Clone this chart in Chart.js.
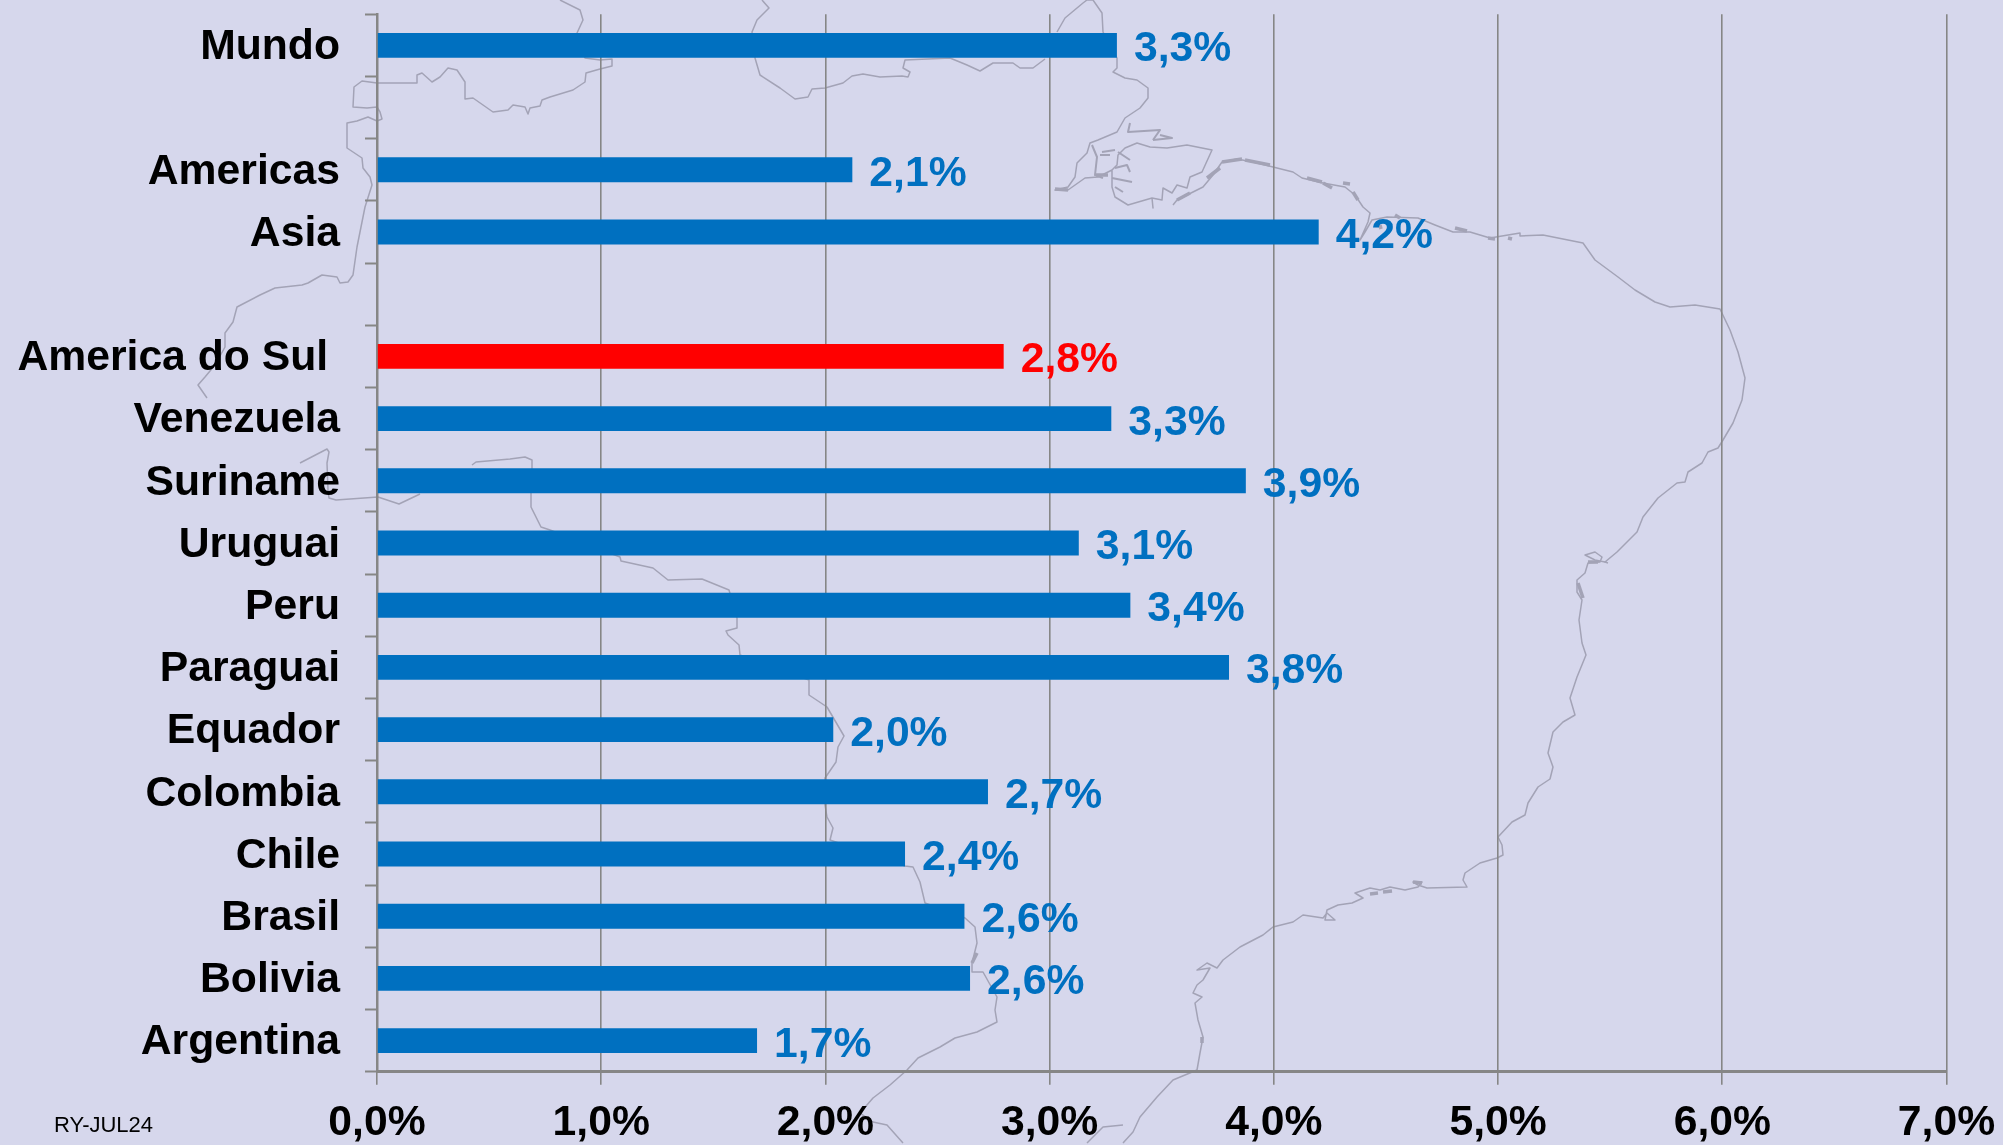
<!DOCTYPE html>
<html>
<head>
<meta charset="utf-8">
<title>America do Sul</title>
<script src="https://cdn.jsdelivr.net/npm/chart.js@4/dist/chart.umd.min.js"></script>
<style>
    html, body { margin: 0; padding: 0; width: 2003px; height: 1145px; overflow: hidden; background: #d6d7ec; }
    #map, #chart { position: absolute; left: 0; top: 0; }
</style>
</head>
<body>
<svg id="map" width="2003" height="1145"></svg>
<canvas id="chart" width="2003" height="1145"></canvas>
<script>
// Chart data, top to bottom. Empty names are the gaps between groups
const regions = ['Mundo', '', 'Americas', 'Asia', '', 'America do Sul ', 'Venezuela', 'Suriname', 'Uruguai',
    'Peru', 'Paraguai', 'Equador', 'Colombia', 'Chile', 'Brasil', 'Bolivia', 'Argentina'];
const rates = [3.30, null, 2.12, 4.20, null, 2.795, 3.275, 3.875, 3.13,
    3.36, 3.80, 2.035, 2.725, 2.355, 2.62, 2.645, 1.695];
const highlighted = ['America do Sul '];
const xTicks = [0, 1, 2, 3, 4, 5, 6, 7];
const footnote = 'RY-JUL24';

const BLUE = '#0070c0';
const RED = '#ff0000';
const AXIS_GREY = '#868686';
const FONT = '"Liberation Sans", Arial, sans-serif';

// Background picture of the continent, traced in page pixels
const coast = [
    [[300,463],[327,449],[329,452],[327,463],[328,490],[329,498],[336,500],[378,497],[399,504],[420,494]],
    [[560,0],[580,10],[583,20],[577,33],[585,58],[600,60],[612,59],[612,66],[600,69],[586,73],[585,82],[573,90],[550,97],[542,100],[540,106],[530,108],[528,114],[525,107],[513,105],[508,110],[493,112],[483,105],[473,98],[465,99],[465,82],[457,70],[448,68],[440,77],[432,82],[422,73],[417,75],[417,83],[377,83],[362,81],[354,87],[353,107],[367,108],[377,107],[380,112],[382,119],[377,121],[368,117],[357,121],[347,123],[347,148],[362,158],[363,168],[370,177],[372,185],[365,207],[357,247],[353,275],[348,282],[340,283],[337,277],[322,275],[308,283],[302,285],[275,288],[260,295],[237,307],[233,322],[225,333],[225,347],[215,365],[205,377],[198,385],[207,398]],
    [[472,465],[476,462],[510,459],[525,457],[532,460],[532,468],[531,493],[531,507],[541,527],[550,530],[620,557],[621,561],[653,568],[668,580],[702,579],[729,590],[737,618],[737,628],[726,631],[728,635],[739,645],[740,655],[809,680],[809,695],[827,707],[844,736],[838,747],[836,762],[825,778],[825,805],[827,817],[833,828],[830,840],[905,866],[913,867],[920,882],[925,903],[965,918],[975,927],[977,943],[972,963],[972,972],[983,972],[997,997],[995,1010],[997,1022],[977,1032],[955,1038],[940,1047],[918,1058],[907,1070],[890,1085],[873,1098],[860,1113],[873,1122],[887,1125],[903,1143]],
    [[762,0],[769,8],[757,20],[752,32],[755,58],[760,75],[780,88],[795,99],[808,97],[812,89],[825,88],[843,83],[852,76],[863,74],[880,77],[902,76],[908,77],[910,72],[903,68],[905,60],[950,58],[967,65],[980,71],[993,63],[1013,63],[1020,68],[1033,68],[1045,59]],
    [[1057,32],[1065,18],[1083,3],[1087,0],[1093,0],[1102,13],[1103,32],[1117,58],[1117,68],[1113,72],[1125,78],[1137,80],[1148,88],[1148,98],[1140,108],[1125,118],[1117,132],[1098,140],[1090,143],[1087,153],[1077,163],[1075,177],[1068,187],[1055,190],[1068,190],[1085,178],[1098,177],[1112,170],[1112,187],[1115,197],[1128,205],[1152,198],[1153,208],[1152,198],[1162,200],[1163,188],[1172,193],[1177,185],[1187,188],[1190,177],[1202,172],[1212,150],[1187,145],[1167,148],[1150,147],[1137,143],[1125,148],[1118,155],[1117,165],[1112,170]],
    [[1173,205],[1177,200],[1203,187],[1213,175],[1222,162],[1237,159],[1253,162],[1273,167],[1293,172],[1302,178],[1323,183],[1345,187],[1355,195],[1363,207],[1370,213],[1368,222],[1360,240],[1365,232],[1372,220],[1387,217],[1418,218],[1435,225],[1453,232],[1470,232],[1490,238],[1520,233],[1520,236],[1543,235],[1583,243],[1595,260],[1618,277],[1635,290],[1655,302],[1670,307],[1695,305],[1720,309],[1730,330],[1738,352],[1745,378],[1742,400],[1733,423],[1723,440],[1718,448],[1708,452],[1702,463],[1688,472],[1685,482],[1677,483],[1658,498],[1643,517],[1637,532],[1617,552],[1605,562],[1608,563]],
    [[1605,562],[1595,560],[1585,555],[1595,552],[1602,557],[1600,562],[1588,563],[1585,573],[1577,580],[1577,592],[1582,600],[1579,620],[1582,643],[1586,655],[1577,677],[1570,698],[1575,715],[1563,722],[1553,732],[1548,753],[1553,767],[1550,779],[1538,787],[1528,803],[1525,815],[1512,822],[1498,837],[1502,845],[1503,855],[1497,858],[1480,863],[1465,873],[1463,880],[1467,887],[1427,888],[1418,885],[1413,882],[1422,882],[1418,887],[1405,890],[1390,887],[1380,890],[1370,888],[1355,893],[1363,898],[1352,903],[1338,905],[1327,910],[1325,920],[1335,920],[1327,913],[1323,918],[1303,915],[1293,922],[1273,927],[1263,935],[1240,947],[1223,960],[1217,968],[1207,963],[1197,970],[1210,968],[1203,980],[1197,985],[1193,993],[1202,997],[1195,1003],[1198,1020],[1203,1037],[1200,1053],[1197,1070],[1173,1080],[1157,1097],[1140,1117],[1133,1132],[1123,1143]],
    [[1123,1125],[1103,1127],[1087,1143]]
];
// Inner channels of the river delta
const deltaChannels = [
    [[1092,145],[1097,157],[1095,175],[1103,178]],
    [[1102,152],[1115,150]], [[1100,155],[1110,155]], [[1118,152],[1130,160]],
    [[1115,168],[1127,165],[1130,172]], [[1112,178],[1132,182]], [[1115,187],[1123,192]],
    [[1130,123],[1128,132],[1160,130],[1153,140]], [[1153,140],[1172,138],[1160,135]]
];
// Small dark specks where the coast is very broken up
const coastSpecks = [
    [[1207,178],[1220,168]], [[1177,200],[1190,193]], [[1222,162],[1242,159]], [[1245,160],[1270,165]],
    [[1307,178],[1322,182]], [[1323,183],[1332,188]], [[1343,183],[1350,184]], [[1353,192],[1358,200]],
    [[1395,215],[1400,218]], [[1455,228],[1467,231]], [[1488,238],[1495,239]], [[1508,238],[1512,239]],
    [[1380,225],[1381,229]], [[1588,562],[1598,562]], [[1578,583],[1583,598]], [[1413,882],[1422,883]],
    [[1370,894],[1378,893]], [[1383,892],[1392,891]], [[972,963],[977,953]], [[1202,1037],[1202,1043]],
    [[1096,175],[1108,175]], [[1055,189],[1068,190]]
];

const svg = document.getElementById('map');
function addCoast(points, width) {
    const line = document.createElementNS('http://www.w3.org/2000/svg', 'polyline');
    line.setAttribute('points', points.map(p => p.join(',')).join(' '));
    line.setAttribute('fill', 'none');
    line.setAttribute('stroke', '#a3a3b6');
    line.setAttribute('stroke-width', width);
    line.setAttribute('stroke-linejoin', 'round');
    svg.appendChild(line);
}
coast.forEach(points => addCoast(points, 1.5));
deltaChannels.forEach(points => addCoast(points, 2));
coastSpecks.forEach(points => addCoast(points, 3.5));

const barColor = (name) => highlighted.includes(name) ? RED : BLUE;
const percent = (value) => value.toFixed(1).replace('.', ',') + '%';

// Writes the value next to each bar, Chart.js has no built in data labels
const valueLabels = {
    id: 'valueLabels',
    afterDatasetsDraw(chart) {
        const ctx = chart.ctx;
        ctx.save();
        ctx.font = 'bold 42.7px ' + FONT;
        ctx.textAlign = 'left';
        ctx.textBaseline = 'alphabetic';
        chart.getDatasetMeta(0).data.forEach((bar, i) => {
            if (rates[i] === null) return;
            ctx.fillStyle = barColor(regions[i]);
            ctx.fillText(percent(rates[i]), bar.x + 17, bar.y + 16);
        });
        ctx.restore();
    }
};

const footnoteText = {
    id: 'footnoteText',
    afterDraw(chart) {
        const ctx = chart.ctx;
        ctx.save();
        ctx.font = '22px ' + FONT;
        ctx.fillStyle = '#000000';
        ctx.textAlign = 'left';
        ctx.fillText(footnote, 54, 1132);
        ctx.restore();
    }
};

new Chart(document.getElementById('chart'), {
    type: 'bar',
    data: {
        labels: regions,
        datasets: [{
            data: rates,
            backgroundColor: regions.map(barColor),
            barPercentage: 0.4,
            categoryPercentage: 1
        }]
    },
    plugins: [valueLabels, footnoteText],
    options: {
        indexAxis: 'y',
        responsive: false,
        animation: false,
        layout: { padding: { top: 14.3, right: 56.5, left: 0, bottom: 0 } },
        plugins: { legend: { display: false }, tooltip: { enabled: false } },
        scales: {
            x: {
                min: xTicks[0],
                max: xTicks[xTicks.length - 1],
                afterFit(scale) {
                    // the last tick label may hang over the chart area, as in the original
                    scale.height = 73.3;
                    scale.paddingLeft = 0;
                    scale.paddingRight = 0;
                },
                afterBuildTicks(scale) { scale.ticks = xTicks.map(value => ({ value })); },
                border: { color: AXIS_GREY, width: 3 },
                grid: { color: AXIS_GREY, lineWidth: 1.6, tickLength: 13, tickColor: AXIS_GREY },
                ticks: {
                    autoSkip: false,
                    maxRotation: 0,
                    padding: 13,
                    color: '#000000',
                    font: { family: FONT, size: 42.7, weight: 'bold' },
                    callback: (value) => percent(value)
                }
            },
            y: {
                afterFit(scale) {
                    scale.width = 377;
                    scale.paddingTop = 0;
                    scale.paddingBottom = 0;
                },
                border: { color: AXIS_GREY, width: 2.5 },
                grid: { drawOnChartArea: false, tickLength: 12, tickColor: AXIS_GREY, tickWidth: 2 },
                ticks: {
                    autoSkip: false,
                    padding: 25,
                    labelOffset: 2,
                    color: '#000000',
                    font: { family: FONT, size: 42.7, weight: 'bold' }
                }
            }
        }
    }
});
</script>
</body>
</html>
